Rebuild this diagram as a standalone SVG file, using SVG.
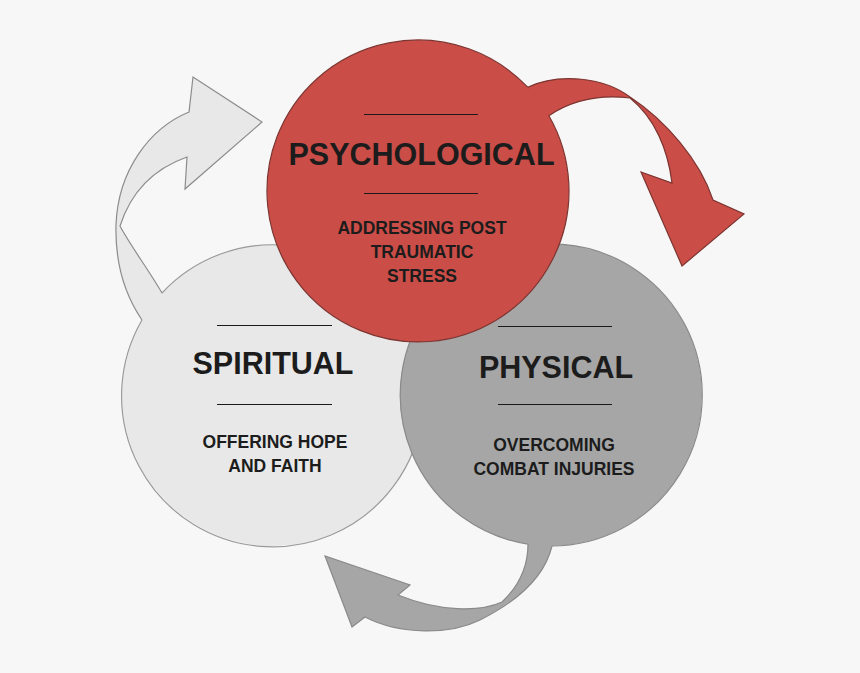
<svg xmlns="http://www.w3.org/2000/svg" width="860" height="673" viewBox="0 0 860 673">
<style>
.t{font-family:"Liberation Sans",Arial,sans-serif;font-weight:bold;fill:#1c1c1c;text-anchor:middle}
.h{font-size:30.5px}
.s{font-size:17.5px}
.rule{stroke:#1a1a1a;stroke-width:1}
.edge{fill:none;stroke-width:1.2}
</style>
<rect width="860" height="673" fill="#f7f7f7"/>
<g id="connectors">
<path id="arrow-spiritual-psych" d="M162,293 C150,272 130,245 120,226 C130,195 150,170 187,157 L185,189 L262,122 L193,77 L189,112 C150,128 118,170 116,225 C115,265 125,295 142,320 L170,320 Z" fill="#e8e8e8" stroke="#8c8c8c" stroke-width="1.2"/>
<path id="arrow-psych-physical" d="M527.7,87.2 C560,72 605,78 630,97 C665,120 700,160 713,200 L744,214 L682,266 L641,172 L672,183 C668,150 655,118 630,98 C605,95 575,98 548.9,115.7 L530,110 Z" fill="#cb4d47" stroke="#7d3531" stroke-width="1.2"/>
<path id="arrow-physical-spiritual" d="M528,544.2 C528,565 520,585 502,602 C480,612 440,612 398,595 L410,585 L325,556 L352,627 L365,617 C400,635 450,635 480,620 C520,600 545,575 552,546 L540,530 Z" fill="#a6a6a6" stroke="#8a8a8a" stroke-width="1.2"/>
</g>
<g id="spiritual">
<circle cx="273" cy="395" r="151" fill="#e8e8e8"/>
<path class="edge" d="M142,320 A151 151 0 1 0 162,293" stroke="#9a9a9a"/>
<line class="rule" x1="217" y1="325.5" x2="332" y2="325.5"/>
<text class="t h" x="273" y="374">SPIRITUAL</text>
<line class="rule" x1="217" y1="404.5" x2="332" y2="404.5"/>
<text class="t s" x="275" y="448">OFFERING HOPE</text>
<text class="t s" x="275" y="472">AND FAITH</text>
</g>
<g id="physical">
<circle cx="551" cy="395" r="151" fill="#a6a6a6"/>
<path class="edge" d="M552,546 A151 151 0 1 0 528,544.2" stroke="#8a8a8a"/>
<line class="rule" x1="498" y1="326.5" x2="612" y2="326.5"/>
<text class="t h" x="556" y="378">PHYSICAL</text>
<line class="rule" x1="498" y1="404.5" x2="612" y2="404.5"/>
<text class="t s" x="554" y="451">OVERCOMING</text>
<text class="t s" x="554" y="475">COMBAT INJURIES</text>
</g>
<g id="psychological">
<circle cx="418" cy="191" r="151" fill="#cb4d47"/>
<path class="edge" d="M548.9,115.7 A151 151 0 1 1 527.7,87.2" stroke="#7d3531"/>
<line class="rule" x1="364" y1="114.5" x2="478" y2="114.5"/>
<text class="t h" x="421.5" y="165">PSYCHOLOGICAL</text>
<line class="rule" x1="364" y1="193.5" x2="478" y2="193.5"/>
<text class="t s" x="422" y="234">ADDRESSING POST</text>
<text class="t s" x="422" y="258">TRAUMATIC</text>
<text class="t s" x="422" y="282">STRESS</text>
</g>
</svg>
